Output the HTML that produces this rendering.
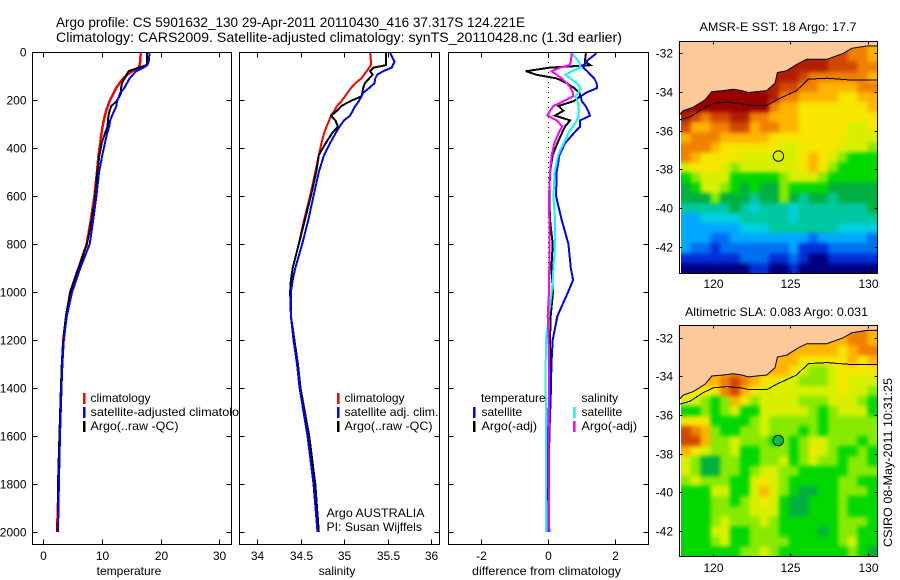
<!DOCTYPE html>
<html lang="en">
<head>
<meta charset="utf-8">
<title>Argo profile CS 5901632_130</title>
<style>
html,body{margin:0;padding:0;background:#fff;width:900px;height:580px;overflow:hidden}
svg{display:block}
text{font-family:"Liberation Sans",sans-serif;font-size:12px;fill:#000}
polyline{fill:none;shape-rendering:crispEdges;stroke-linejoin:miter}
rect.frame{fill:none;stroke:#000;stroke-width:1;shape-rendering:crispEdges}
rect.bg{fill:#fff;stroke:none}
</style>
</head>
<body>
<svg id="chart" width="900" height="580" viewBox="0 0 900 580" xmlns="http://www.w3.org/2000/svg">
  <defs>
    <filter id="soften" filterUnits="userSpaceOnUse" x="650" y="0" width="250" height="580" color-interpolation-filters="sRGB">
      <feGaussianBlur stdDeviation="2.2"/>
    </filter>
    <clipPath id="clip-sst"><rect x="681" y="41.5" width="196.5" height="232"/></clipPath>
    <clipPath id="clip-sla"><rect x="681" y="325.5" width="196.5" height="231"/></clipPath>
  </defs>

  <text x="56" y="27" style="font-size:14px" textLength="469" lengthAdjust="spacingAndGlyphs">Argo profile: CS 5901632_130 29-Apr-2011 20110430_416 37.317S 124.221E</text>
  <text x="56" y="42" style="font-size:14px" textLength="566" lengthAdjust="spacingAndGlyphs">Climatology: CARS2009. Satellite-adjusted climatology: synTS_20110428.nc (1.3d earlier)</text>

  <g id="panel-t">
    <rect class="bg" x="32.5" y="52.5" width="199" height="492"/>
    <polyline id="t-clim" stroke="#ff0000" stroke-width="2.5"/>
    <polyline id="t-argo" stroke="#000" stroke-width="2"/>
    <polyline id="t-sat" stroke="#0000ff" stroke-width="2"/>
    <rect class="frame" x="32.5" y="52.5" width="199" height="492"/>
    <g id="ticks-t"></g>
    <rect x="83" y="393" width="2.5" height="11" fill="#ff0000"/>
    <text x="90.5" y="402">climatology</text>
    <rect x="83" y="407" width="2.5" height="11" fill="#0000ff"/>
    <text x="90.5" y="416" textLength="162" lengthAdjust="spacingAndGlyphs">satellite-adjusted climatology</text>
    <rect x="83" y="421" width="2.5" height="11" fill="#000"/>
    <text x="90.5" y="430" textLength="88" lengthAdjust="spacingAndGlyphs">Argo(..raw -QC)</text>
    <text x="129" y="575" text-anchor="middle">temperature</text>
  </g>

  <g id="panel-s">
    <rect class="bg" x="239.5" y="52.5" width="200" height="492"/>
    <polyline id="s-clim" stroke="#ff0000" stroke-width="2"/>
    <polyline id="s-argo" stroke="#000" stroke-width="2"/>
    <polyline id="s-sat" stroke="#0000ff" stroke-width="2"/>
    <rect class="frame" x="239.5" y="52.5" width="200" height="492"/>
    <g id="ticks-s"></g>
    <rect x="337" y="393" width="2.5" height="11" fill="#ff0000"/>
    <text x="344.5" y="402">climatology</text>
    <rect x="337" y="407" width="2.5" height="11" fill="#0000ff"/>
    <text x="344.5" y="416" textLength="94" lengthAdjust="spacingAndGlyphs">satellite adj. clim.</text>
    <rect x="337" y="421" width="2.5" height="11" fill="#000"/>
    <text x="344.5" y="430" textLength="88" lengthAdjust="spacingAndGlyphs">Argo(..raw -QC)</text>
    <text x="326.5" y="517" textLength="98" lengthAdjust="spacingAndGlyphs">Argo AUSTRALIA</text>
    <text x="326.5" y="531" textLength="95.5" lengthAdjust="spacingAndGlyphs">PI: Susan Wijffels</text>
    <text x="337" y="575" text-anchor="middle">salinity</text>
  </g>

  <g id="panel-d">
    <rect class="bg" x="448.5" y="52.5" width="200" height="492"/>
    <line id="zero-line" stroke="#000" stroke-width="1" stroke-dasharray="1 4" shape-rendering="crispEdges"/>
    <polyline id="d-t-argo" stroke="#000" stroke-width="2"/>
    <polyline id="d-t-sat" stroke="#0000ff" stroke-width="2"/>
    <polyline id="d-s-sat" stroke="#00ffff" stroke-width="2"/>
    <polyline id="d-s-argo" stroke="#ff00ff" stroke-width="2"/>
    <rect class="frame" x="448.5" y="52.5" width="200" height="492"/>
    <g id="ticks-d"></g>
    <text x="481" y="402">temperature</text>
    <rect x="473" y="407" width="2.5" height="11" fill="#0000ff"/>
    <text x="481.5" y="416">satellite</text>
    <rect x="473" y="421" width="2.5" height="11" fill="#000"/>
    <text x="481.5" y="430" textLength="55.5" lengthAdjust="spacingAndGlyphs">Argo(-adj)</text>
    <text x="581.5" y="402">salinity</text>
    <rect x="573" y="407" width="2.5" height="11" fill="#00ffff"/>
    <text x="581.5" y="416">satellite</text>
    <rect x="573" y="421" width="2.5" height="11" fill="#ff00ff"/>
    <text x="581.5" y="430" textLength="55.5" lengthAdjust="spacingAndGlyphs">Argo(-adj)</text>
    <text x="546.5" y="575" text-anchor="middle" textLength="149" lengthAdjust="spacingAndGlyphs">difference from climatology</text>
  </g>

  <g id="map-sst">
    <text x="778" y="31" text-anchor="middle" textLength="157" lengthAdjust="spacingAndGlyphs">AMSR-E SST: 18 Argo: 17.7</text>
    <g clip-path="url(#clip-sst)">
      <g id="cells-sst" filter="url(#soften)"></g>
    </g>
    <polygon id="land-sst" fill="#fdc998" stroke="#000" stroke-width="1"/>
    <polyline id="iso-sst" stroke="#000" stroke-width="1"/>
    <circle id="float-sst" r="5.2" fill="none" stroke="#000" stroke-width="1"/>
    <rect class="frame" x="679.5" y="41.5" width="198" height="232"/>
    <g id="ticks-sst"></g>
  </g>

  <g id="map-sla">
    <text x="776.5" y="316" text-anchor="middle" textLength="183" lengthAdjust="spacingAndGlyphs">Altimetric SLA: 0.083 Argo: 0.031</text>
    <g clip-path="url(#clip-sla)">
      <g id="cells-sla" filter="url(#soften)"></g>
    </g>
    <polygon id="land-sla" fill="#fdc998" stroke="#000" stroke-width="1"/>
    <polyline id="iso-sla" stroke="#000" stroke-width="1"/>
    <circle id="float-sla" r="5.2" fill="#00c040" stroke="#000" stroke-width="1"/>
    <rect class="frame" x="679.5" y="325.5" width="198" height="231"/>
    <g id="ticks-sla"></g>
  </g>

  <text transform="translate(892,462.5) rotate(-90)" text-anchor="middle" textLength="169" lengthAdjust="spacingAndGlyphs">CSIRO 08-May-2011 10:31:25</text>
</svg>

<script>
// ---- profile data ----
var depths = [5,40,55,65,80,95,110,130,150,170,185,205,225,245,265,285,310,340,380,430,500,600,700,800,900,950,1000,1100,1200,1300,1400,1600,1800,2000];

var tempClim = [16.6,16.5,16.4,16.25,15.2,14.3,13.6,13.0,12.4,12.0,11.7,11.3,11.0,10.7,10.5,10.3,10.1,9.9,9.7,9.4,9.15,8.7,8.1,7.4,6.0,5.3,4.6,3.9,3.4,3.2,3.05,2.8,2.6,2.35];
var tempSat = [18.1,17.95,17.7,17.1,15.85,15.25,14.7,14.25,13.8,13.1,12.9,12.55,12.45,12.1,11.7,11.4,11.25,10.85,10.5,10.05,9.5,9.05,8.5,7.9,6.3,5.6,4.9,4.0,3.5,3.25,3.1,2.85,2.65,2.5];
var tempArgo = [17.7,17.7,17.6,16.25,14.55,14.15,13.85,13.4,13.25,13.25,13.0,12.45,11.6,11.3,11.1,11.0,10.95,10.5,9.95,9.55,9.2,8.85,8.25,7.45,6.0,5.3,4.6,3.85,3.4,3.15,3.0,2.75,2.5,2.45];

var salClim = [35.30,35.31,35.31,35.29,35.26,35.23,35.20,35.13,35.08,35.04,35.01,34.97,34.92,34.89,34.85,34.83,34.80,34.77,34.74,34.71,34.67,34.61,34.54,34.48,34.41,34.39,34.38,34.39,34.425,34.46,34.495,34.585,34.655,34.70];
var salSat = [35.53,35.58,35.56,35.55,35.45,35.38,35.36,35.35,35.29,35.22,35.20,35.17,35.13,35.10,35.07,35.00,34.95,34.90,34.84,34.77,34.71,34.65,34.59,34.52,34.44,34.41,34.39,34.39,34.42,34.46,34.49,34.58,34.65,34.695];
var salArgo = [35.48,35.48,35.48,35.34,35.30,35.33,35.29,35.24,35.22,35.21,35.20,35.07,34.97,34.92,34.85,34.90,34.93,34.86,34.79,34.71,34.68,34.62,34.55,34.48,34.41,34.39,34.38,34.39,34.43,34.47,34.50,34.60,34.67,34.71];

var diffTempSat = [1.45,1.13,1.07,1.05,1.17,1.27,1.38,1.45,1.47,1.13,0.98,1.01,1.12,1.2,1.25,0.96,0.96,0.76,0.51,0.34,0.26,0.24,0.41,0.61,0.68,0.75,0.6,0.28,0.14,0.1,0.09,0.04,0.03,0.03];
var diffTempArgo = [1.13,1.10,1.27,0.06,-0.66,-0.34,0.26,0.56,0.78,0.94,0.96,0.76,0.31,0.46,0.21,0.66,0.51,0.41,0.28,0.14,0.06,0.04,0.06,0.14,0.10,0.12,0.15,0.08,0.06,0.06,0.04,0,-0.03,-0.05];
var diffSalSat = [0.71,0.92,0.96,0.96,0.71,0.52,0.66,0.86,0.96,0.91,0.81,0.88,0.91,0.91,0.91,0.86,0.74,0.6,0.47,0.3,0.2,0.16,0.21,0.21,0.16,0.14,0.11,0.02,-0.06,-0.07,-0.07,-0.06,-0.06,-0.06];
var diffSalArgo = [0.71,0.68,0.64,0.36,0.11,0.26,0.41,0.56,0.68,0.74,0.74,0.46,0.16,0.06,-0.02,0.26,0.42,0.31,0.19,0.11,0.06,0.03,0.04,0.05,0.04,0.03,0.03,-0.01,0.02,0.03,0.03,0.02,0.02,0.04];

// ---- tick labels ----
var depthTicks = [0,200,400,600,800,1000,1200,1400,1600,1800,2000];
var tempTicks = [0,10,20,30];
var salTicks = [34,34.5,35,35.5,36];
var diffTicks = [-2,0,2];
var lonTicks = [120,125,130];
var latTicks = [-32,-34,-36,-38,-40,-42];

// ---- map data: palette class per cell, west to east, north to south ----
var sstGrid = [
"eeeeeeeeeeeeeeeedccb","eeeeeeeeeeeeeeeddccb","eeeeeeeeeeeeeeedddcc","eeeeeeeeeeeedccccccb",
"ffffffffeeddccbbbbcc","fffffffffeccbbbbaabb","fffffffffcbbaaaaaaab","edcddeeccbbbaaaaaaaa",
"dbbccddbccbbaaaaa99a","bcccbbbbbaaaaaaaa999","cccbaaaaaa99aaaa9998","cbaaaa999999aba98777",
"9aaa98999999aba87777","78999777778999877777","67998767668777766666","66686665668656656666",
"55555654555455555556","33444455555455555555","33333344455555554444","33322333333332333332",
"32212222222311122222","11111122211210011111","00000001100100000000"];
var slaGrid = [
"bbbbbbbbbbbbbbbbbccb","bbbbbbbbbbbbbbbbbccb","bbbbbbbbbbbbbbbbabcc","bbbbbbbbbbbbaaaaabab",
"bbbbbbbbbbba9889aaaa","bbbbcdcbaa998889a999","aaaacdba99999999a998","99878ba8999988899987",
"77878977999998789997","aaa77778988888788888","dcb87788988878788888","ddb88988878789988878",
"ba98897788878a987787","98668877889789887887","98668878998877777888","89888779a98777778877",
"77799779b98766778887","77788789a97667778777","77788889997667778777","77789888987777778887",
"77799778887777678877","77789778888777778977","77777788987777777876"];
var paletteClasses = ["#00007f","#0030d8","#0070f0","#00a8ff","#00d0e0","#00c8a0","#00b040","#00d800","#88ea00","#d8f000","#f6e600","#ffb400","#f08000","#d04800","#b02000","#980000"];

var coastLon = [117.8,118.05,118.7,119.46,119.9,120.65,121.3,121.84,122.27,123.46,124.0,124.16,124.76,125.52,126.06,127.36,128.44,128.98,129.96,130.65];
var coastLat = [-35.19,-34.97,-34.79,-34.41,-33.98,-33.93,-33.86,-33.93,-34.03,-33.93,-33.55,-33.0,-32.9,-32.52,-32.31,-32.31,-32.0,-31.74,-31.62,-31.62];
var isoLon = [117.8,118.5,119.35,120,120.87,121.73,122.38,123.46,124.1,125.4,126.17,127.36,128.87,130.65];
var isoLat = [-35.45,-35.28,-34.84,-34.59,-34.53,-34.59,-34.69,-34.69,-34.41,-33.93,-33.34,-33.29,-33.38,-33.38];
var floatLon = 124.221;
var floatLat = -37.317;

// ---- axis functions ----
var NS = 'http://www.w3.org/2000/svg';
function yDepth(d){ return 52 + d * 0.24; }
function xTemp(v){ return 43.3 + v * 5.87; }
function xSal(v){ return 257 + (v - 34) * 87; }
function xDiff(v){ return 548 + v * 33.5; }
function xLon(l){ return 713.3 + (l - 120) * 15.42; }
function yLatSst(t){ return 53.3 + (-32 - t) * 19.33; }
function yLatSla(t){ return 337.7 + (-32 - t) * 19.33; }

function byId(id){ return document.getElementById(id); }

function plotProfile(id, values, xf){
  var pts = [];
  for (var i = 0; i < depths.length; i++) {
    pts.push(xf(values[i]).toFixed(1) + ',' + yDepth(depths[i]).toFixed(1));
  }
  byId(id).setAttribute('points', pts.join(' '));
}
plotProfile('t-clim', tempClim, xTemp);
plotProfile('t-argo', tempArgo, xTemp);
plotProfile('t-sat', tempSat, xTemp);
plotProfile('s-clim', salClim, xSal);
plotProfile('s-argo', salArgo, xSal);
plotProfile('s-sat', salSat, xSal);
plotProfile('d-t-argo', diffTempArgo, xDiff);
plotProfile('d-t-sat', diffTempSat, xDiff);
plotProfile('d-s-sat', diffSalSat, xDiff);
plotProfile('d-s-argo', diffSalArgo, xDiff);
var zeroLine = byId('zero-line');
zeroLine.setAttribute('x1', Math.round(xDiff(0)) + 0.5);
zeroLine.setAttribute('x2', Math.round(xDiff(0)) + 0.5);
zeroLine.setAttribute('y1', yDepth(0));
zeroLine.setAttribute('y2', yDepth(2000));

function tickMark(g, x1, y1, x2, y2){
  var el = document.createElementNS(NS, 'line');
  
  
  el.setAttribute('x1', x1); el.setAttribute('y1', y1);
  el.setAttribute('x2', x2); el.setAttribute('y2', y2);
  el.setAttribute('stroke', '#000');
  el.setAttribute('stroke-width', '1');
  el.setAttribute('shape-rendering', 'crispEdges');
  g.appendChild(el);
}
function tickLabel(g, x, y, anchor, str){
  var el = document.createElementNS(NS, 'text');
  
  
  el.setAttribute('x', x); el.setAttribute('y', y);
  el.setAttribute('text-anchor', anchor);
  el.textContent = str;
  g.appendChild(el);
}

function profileAxes(gid, left, right, ticks, xf, withDepthLabels){
  var g = byId(gid), top = 52.5, bottom = 544.5, i, p;
  for (i = 0; i < ticks.length; i++) {
    p = Math.round(xf(ticks[i])) + 0.5;
    tickMark(g, p, top, p, top + 5);
    tickMark(g, p, bottom, p, bottom - 5);
    tickLabel(g, p, 560, 'middle', String(ticks[i]));
  }
  for (i = 0; i < depthTicks.length; i++) {
    p = Math.round(yDepth(depthTicks[i])) + 0.5;
    tickMark(g, left, p, left + 5, p);
    tickMark(g, right, p, right - 5, p);
    if (withDepthLabels) tickLabel(g, 26.5, p + 4, 'end', String(depthTicks[i]));
  }
}
profileAxes('ticks-t', 32.5, 231.5, tempTicks, xTemp, true);
profileAxes('ticks-s', 239.5, 439.5, salTicks, xSal, false);
profileAxes('ticks-d', 448.5, 648.5, diffTicks, xDiff, false);

function drawMap(key, grid, yLat, top, bottom, labelY){
  var cols = grid[0].length, rows = grid.length;
  var lonW = 117.9, lonE = 130.62;
  var latN = -32 + (yLat(-32) - top) / 19.33;
  var latS = -32 - (bottom - yLat(-32)) / 19.33;
  var dLon = (lonE - lonW) / cols, dLat = (latN - latS) / rows;
  var cellsG = byId('cells-' + key);
  for (var r = 0; r < rows; r++) {
    for (var c = 0; c < cols; c++) {
      var cell = document.createElementNS(NS, 'rect');
      
      
      var x0 = xLon(lonW + c * dLon), x1 = xLon(lonW + (c + 1) * dLon);
      var y0 = yLat(latN - r * dLat), y1 = yLat(latN - (r + 1) * dLat);
      // outer cells run past the clip so the softening does not fade at the frame
      if (c === 0) x0 -= 10;
      if (c === cols - 1) x1 += 10;
      if (r === 0) y0 -= 10;
      if (r === rows - 1) y1 += 10;
      cell.setAttribute('x', x0.toFixed(2));
      cell.setAttribute('y', y0.toFixed(2));
      cell.setAttribute('width', (x1 - x0 + 0.6).toFixed(2));
      cell.setAttribute('height', (y1 - y0 + 0.6).toFixed(2));
      cell.setAttribute('fill', paletteClasses[parseInt(grid[r].charAt(c), 16)]);
      cell.setAttribute('shape-rendering', 'crispEdges');
      cellsG.appendChild(cell);
    }
  }
  var pts = [], i;
  for (i = 0; i < coastLon.length; i++) {
    pts.push(xLon(coastLon[i]).toFixed(1) + ',' + yLat(coastLat[i]).toFixed(1));
  }
  pts.push(xLon(130.65).toFixed(1) + ',' + top);
  pts.push(xLon(117.8).toFixed(1) + ',' + top);
  byId('land-' + key).setAttribute('points', pts.join(' '));
  pts = [];
  for (i = 0; i < isoLon.length; i++) {
    pts.push(xLon(isoLon[i]).toFixed(1) + ',' + yLat(isoLat[i]).toFixed(1));
  }
  byId('iso-' + key).setAttribute('points', pts.join(' '));
  var f = byId('float-' + key);
  f.setAttribute('cx', xLon(floatLon).toFixed(1));
  f.setAttribute('cy', yLat(floatLat).toFixed(1));

  var g = byId('ticks-' + key), p;
  for (i = 0; i < lonTicks.length; i++) {
    p = Math.round(xLon(lonTicks[i])) + 0.5;
    tickMark(g, p, top, p, top + 3);
    tickMark(g, p, bottom, p, bottom - 3);
    tickLabel(g, p, labelY, 'middle', String(lonTicks[i]));
  }
  for (i = 0; i < latTicks.length; i++) {
    p = Math.round(yLat(latTicks[i])) + 0.5;
    tickMark(g, 679.5, p, 682.5, p);
    tickMark(g, 877.5, p, 874.5, p);
    tickLabel(g, 673, p + 4, 'end', String(latTicks[i]));
  }
}
drawMap('sst', sstGrid, yLatSst, 41.5, 273.5, 288);
drawMap('sla', slaGrid, yLatSla, 325.5, 556.5, 572);
</script>
</body>
</html>
